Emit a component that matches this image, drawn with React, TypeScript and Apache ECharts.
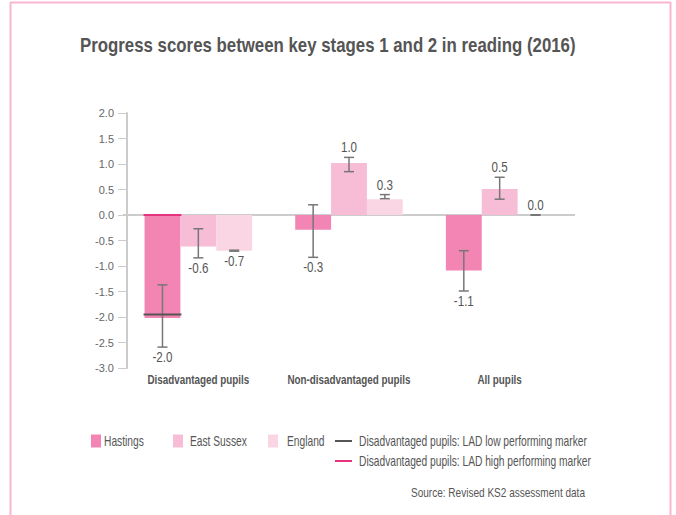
import React, { useEffect, useRef } from "react";
import * as echarts from "echarts";

const categories = ["Disadvantaged pupils", "Non-disadvantaged pupils", "All pupils"];
const seriesNames = ["Hastings", "East Sussex", "England"];
const hastings = [-2.02, -0.29, -1.09];
const eastSussex = [-0.62, 1.02, 0.51];
const england = [-0.7, 0.31, 0.0];
const hastingsLow = [-2.59, -0.83, -1.49];
const hastingsHigh = [-1.37, 0.2, -0.7];
const eastSussexLow = [-0.84, 0.85, 0.31];
const eastSussexHigh = [-0.27, 1.13, 0.74];
const englandLow = [-0.71, 0.32, -0.005];
const englandHigh = [-0.69, 0.4, 0.005];
const lowMarker = [-1.95, null, null];
const highMarker = [0.0, null, null];
const yTicks = [-3, -2.5, -2, -1.5, -1, -0.5, 0, 0.5, 1, 1.5, 2];
const titleText = "Progress scores between key stages 1 and 2 in reading (2016)";
const legendLow = "Disadvantaged pupils: LAD low performing marker";
const legendHigh = "Disadvantaged pupils: LAD high performing marker";
const sourceText = "Source: Revised KS2 assessment data";

const colors = ["#F285B3", "#F7BCD6", "#FAD6E5"];
const FONT = "'Liberation Sans', Arial, sans-serif";
const TXT = "#555555";
const BAR_FRAC = 0.238;

let ctx: CanvasRenderingContext2D | null = null;
function measure(text: string, font: string) {
  if (!ctx) ctx = document.createElement("canvas").getContext("2d");
  if (!ctx) return text.length * 7;
  ctx.font = font;
  return ctx.measureText(text).width;
}

export default function App() {
  const ref = useRef<HTMLDivElement>(null);
  useEffect(() => {
    if (!ref.current) return;
    const chart = echarts.init(ref.current, null, { renderer: "svg" });
    const values = [hastings, eastSussex, england];
    const lows = [hastingsLow, eastSussexLow, englandLow];
    const highs = [hastingsHigh, eastSussexHigh, englandHigh];

    const titleFont = "bold 20px " + FONT;
    const titleScale = 496 / measure(titleText, titleFont);
    const legFont = "14px " + FONT;
    const legScale = 228 / measure(legendLow, legFont);
    const srcFont = "13px " + FONT;
    const srcScale = 174 / measure(sourceText, srcFont);
    const catFont = "bold 12px " + FONT;
    const catScale = 102 / measure(categories[0], catFont);
    const valFont = "14px " + FONT;
    const valScale = 20 / measure("-2.0", valFont);

    const barSeries = values.map((v, k) => ({
      name: seriesNames[k],
      type: "bar",
      data: v,
      barWidth: BAR_FRAC * 100 + "%",
      barGap: "0%",
      itemStyle: { color: colors[k] },
      z: 2,
      ...(k === 0
        ? {
            markLine: {
              silent: true,
              symbol: ["none", "none"],
              label: { show: false },
              lineStyle: { color: "#cccccc", width: 2, type: "solid" },
              data: [{ yAxis: 0 }],
              z: 1,
            },
          }
        : {}),
    }));

    const errSeries = values.map((v, k) => ({
      name: seriesNames[k] + " error",
      type: "custom",
      z: 5,
      data: v.map((val, i) => [i, val, lows[k][i], highs[k][i]]),
      encode: { x: 0, y: [1, 2, 3] },
      renderItem: (params: any, api: any) => {
        const i = api.value(0);
        const val = api.value(1);
        const lo = api.value(2);
        const hi = api.value(3);
        const band = api.size([1, 0])[0];
        const bw = band * BAR_FRAC;
        const cx = api.coord([i, 0])[0] + (k - 1) * bw;
        const yLo = api.coord([i, lo])[1];
        const yHi = api.coord([i, hi])[1];
        const cap = 5;
        const ls = { stroke: "#777777", lineWidth: 1.5 };
        const children: any[] = [
          { type: "line", shape: { x1: cx, y1: yLo, x2: cx, y2: yHi }, style: ls },
          { type: "line", shape: { x1: cx - cap, y1: yLo, x2: cx + cap, y2: yLo }, style: ls },
          { type: "line", shape: { x1: cx - cap, y1: yHi, x2: cx + cap, y2: yHi }, style: ls },
        ];
        const label = (Math.abs(val) < 0.05 ? 0 : val).toFixed(1);
        let ty: number;
        let vAlign: string;
        if (val >= 0) {
          ty = Math.min(api.coord([i, val])[1], yHi) - 3;
          vAlign = "bottom";
        } else {
          ty = Math.max(api.coord([i, val])[1], yLo) + 3;
          vAlign = "top";
        }
        children.push({
          type: "text",
          x: cx,
          y: ty,
          scaleX: valScale,
          style: {
            text: label,
            x: 0,
            y: 0,
            align: "center",
            verticalAlign: vAlign,
            fill: TXT,
            font: valFont,
          },
        });
        return { type: "group", children };
      },
    }));

    const markerSeries = [
      { arr: lowMarker, color: "#555555", name: "LAD low" },
      { arr: highMarker, color: "#E6337F", name: "LAD high" },
    ].map((m) => ({
      name: m.name,
      type: "custom",
      z: 6,
      data: m.arr.map((v, i) => (v === null ? null : [i, v])).filter((d) => d !== null),
      renderItem: (params: any, api: any) => {
        const i = api.value(0);
        const v = api.value(1);
        const band = api.size([1, 0])[0];
        const bw = band * BAR_FRAC;
        const c = api.coord([i, v]);
        const cx = c[0] - bw;
        return {
          type: "line",
          shape: { x1: cx - bw / 2 - 1, y1: c[1], x2: cx + bw / 2 + 1, y2: c[1] },
          style: { stroke: m.color, lineWidth: 2 },
        };
      },
    }));

    const catSeries = {
      name: "category labels",
      type: "custom",
      z: 6,
      silent: true,
      data: categories.map((c, i) => [i, yTicks[0]]),
      renderItem: (params: any, api: any) => {
        const i = api.value(0);
        const c = api.coord([i, api.value(1)]);
        return {
          type: "text",
          x: c[0],
          y: c[1] + 12,
          scaleX: catScale,
          style: {
            text: categories[i],
            x: 0,
            y: 0,
            align: "center",
            verticalAlign: "middle",
            fill: TXT,
            font: catFont,
          },
        };
      },
    };

    const border = "#F9B5D2";
    const txt = (x: number, y: number, text: string, font: string, sc: number, align = "left") => ({
      type: "text",
      x,
      y,
      scaleX: sc,
      style: { text, x: 0, y: 0, fill: TXT, font, align, verticalAlign: "middle" },
    });
    const lg = (x: number, tx: number, y: number, color: string, text: string) => [
      { type: "rect", shape: { x, y: y - 6.5, width: 10, height: 13 }, style: { fill: color } },
      txt(tx, y, text, legFont, legScale),
    ];

    chart.setOption({
      animation: false,
      grid: { left: 123, right: 101, top: 113, bottom: 147 },
      xAxis: {
        type: "category",
        data: categories,
        axisLine: { show: false },
        axisTick: { show: false },
        axisLabel: { show: false },
      },
      yAxis: {
        type: "value",
        min: yTicks[0],
        max: yTicks[yTicks.length - 1],
        interval: 0.5,
        offset: -4,
        splitLine: { show: false },
        axisLine: { show: true, lineStyle: { color: "#cccccc", width: 2 } },
        axisTick: { show: true, length: 9, lineStyle: { color: "#cccccc", width: 1 } },
        axisLabel: {
          color: "#666666",
          fontFamily: FONT,
          fontSize: 11,
          margin: 13,
          formatter: (v: number) => v.toFixed(1),
        },
      },
      series: [...barSeries, ...errSeries, ...markerSeries, catSeries],
      graphic: [
        { type: "line", shape: { x1: 10.5, y1: 2, x2: 10.5, y2: 515 }, style: { stroke: border, lineWidth: 2 } },
        { type: "line", shape: { x1: 10, y1: 2.5, x2: 671, y2: 2.5 }, style: { stroke: border, lineWidth: 2 } },
        { type: "line", shape: { x1: 670.5, y1: 2, x2: 670.5, y2: 515 }, style: { stroke: border, lineWidth: 2 } },
        txt(80, 45, titleText, titleFont, titleScale),
        ...lg(91, 104, 441, colors[0], seriesNames[0]),
        ...lg(173, 190, 441, colors[1], seriesNames[1]),
        ...lg(268, 287, 441, colors[2], seriesNames[2]),
        { type: "line", shape: { x1: 335, y1: 441, x2: 352, y2: 441 }, style: { stroke: "#555555", lineWidth: 2 } },
        txt(359, 441, legendLow, legFont, legScale),
        { type: "line", shape: { x1: 335, y1: 461, x2: 352, y2: 461 }, style: { stroke: "#E6337F", lineWidth: 2 } },
        txt(359, 461, legendHigh, legFont, legScale),
        txt(585, 492, sourceText, srcFont, srcScale, "right"),
      ],
    });
    return () => chart.dispose();
  }, []);
  return (
    <div
      ref={ref}
      style={{ position: "fixed", left: 0, top: 0, width: 676, height: 515, background: "#fff" }}
    />
  );
}
